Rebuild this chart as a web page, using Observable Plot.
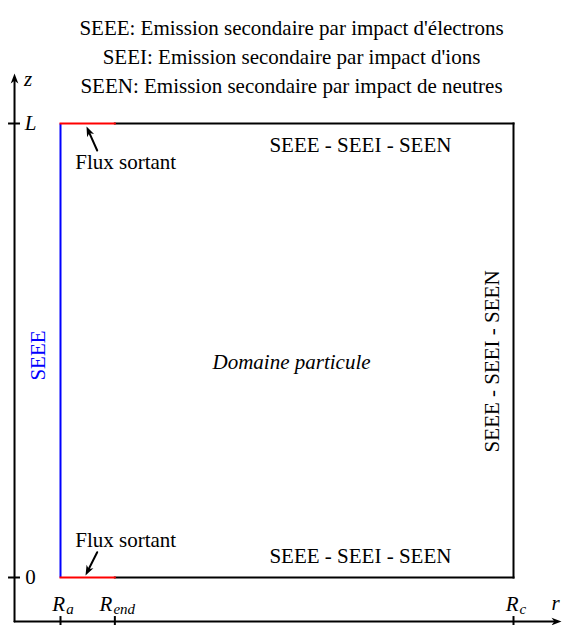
<!DOCTYPE html>
<html><head><meta charset="utf-8">
<script src="https://cdn.jsdelivr.net/npm/d3@7"></script>
<script src="https://cdn.jsdelivr.net/npm/@observablehq/plot@0.6"></script>
<style>
body{margin:0;background:#fff}
#chart svg, #chart svg g, #chart svg text, #chart svg tspan { font-family: "Liberation Serif", "Times New Roman", serif !important; }
</style>
</head><body><div id="chart"></div>
<script>
// ---- data ----
const titleLines = [
  "SEEE: Emission secondaire par impact d'électrons",
  "SEEI: Emission secondaire par impact d'ions",
  "SEEN: Emission secondaire par impact de neutres"
];
const Ra = 0, Rend = 0.12, Rc = 1;   // normalized radial positions
const Z0 = 0, ZL = 1;                // normalized axial positions
const rTickSubs = ["a", "end", "c"];
const rTickValues = [Ra, Rend, Rc];
const zTickNames = ["0", "L"];
const zTickValues = [Z0, ZL];
const walls = [
  {kind: "SEEE", r1: Ra, z1: Z0, r2: Ra, z2: ZL},
  {kind: "wall", r1: Rend, z1: ZL, r2: Rc, z2: ZL},
  {kind: "wall", r1: Rc, z1: Z0, r2: Rc, z2: ZL},
  {kind: "wall", r1: Rend, z1: Z0, r2: Rc, z2: Z0},
  {kind: "flux", r1: Ra, z1: ZL, r2: Rend, z2: ZL},
  {kind: "flux", r1: Ra, z1: Z0, r2: Rend, z2: Z0}
];
const boundaryLabels = [
  {text: "SEEE - SEEI - SEEN", r: 0.662, z: 0.951, rotate: 0},
  {text: "SEEE - SEEI - SEEN", r: 0.662, z: 0.047, rotate: 0},
  {text: "SEEE - SEEI - SEEN", r: 0.953, z: 0.476, rotate: -90}
];
const seeeLabel = [{text: "SEEE", r: -0.0486, z: 0.489}];
const domainLabel = [{text: "Domaine particule", r: 0.51, z: 0.474}];
const fluxLabels = [
  {text: "Flux sortant", r: 0.144, z: 0.914},
  {text: "Flux sortant", r: 0.144, z: 0.0815}
];
const fluxArrows = [
  {r1: 0.081, z1: 0.9405, r2: 0.0574, z2: 0.9934},
  {r1: 0.081, z1: 0.0557, r2: 0.0552, z2: 0.0044}
];
// axis frame (normalized units)
const AXIS_R = -0.1015, AXIS_Z = -0.097, AXIS_R_END = 1.106, AXIS_Z_END = 1.11;

// ---- layout ----
const FONT = "Liberation Serif";
const FS = 21, SUB = 15;
const xRange = [60, 513], yRange = [577, 123];
const kx = (xRange[1] - xRange[0]), ky = (yRange[0] - yRange[1]);
const angle = d => Math.atan2((d.r2 - d.r1) * kx, (d.z2 - d.z1) * ky) * 180 / Math.PI;

const stealth = {draw(ctx) { const L = 10, W = 3.8, B = 7.2; ctx.moveTo(0, 0); ctx.lineTo(W, L); ctx.lineTo(0, B); ctx.lineTo(-W, L); ctx.closePath(); }};

const axes = [
  {r1: AXIS_R, z1: AXIS_Z, r2: AXIS_R_END, z2: AXIS_Z},
  {r1: AXIS_R, z1: AXIS_Z, r2: AXIS_R, z2: AXIS_Z_END}
];

const cv = document.createElement("canvas").getContext("2d");
const tw = (s, size) => { cv.font = `italic ${size}px "${FONT}"`; return cv.measureText(s).width; };

const rLabelMarks = rTickSubs.flatMap((sub, i) => {
  const wR = tw("R", FS), wS = tw(sub, SUB), total = wR + wS + 1, shift = 2.5;
  const d = [{r: rTickValues[i], z: AXIS_Z}];
  return [
    Plot.text(d, {x: "r", y: "z", text: () => "R", fontSize: FS, fontFamily: FONT, fontStyle: "italic", textAnchor: "start", dx: -total / 2 + shift, dy: -17.4, fill: "black"}),
    Plot.text(d, {x: "r", y: "z", text: () => sub, fontSize: SUB, fontFamily: FONT, fontStyle: "italic", textAnchor: "start", dx: -total / 2 + shift + wR + 1, dy: -12.5, fill: "black"})
  ];
});

const zLabelMarks = zTickNames.map((name, i) => Plot.text([{r: AXIS_R, z: zTickValues[i]}], {
  x: "r", y: "z", text: () => name, fontSize: FS, fontFamily: FONT,
  fontStyle: isNaN(+name) ? "italic" : "normal", dx: 16, fill: "black"
}));

const chart = Plot.plot({
  width: 563, height: 625, margin: 0,
  x: {domain: [0, 1], range: xRange, axis: null},
  y: {domain: [0, 1], range: yRange, axis: null},
  marks: [
    // title
    Plot.text([titleLines.join("\n")], {frameAnchor: "top", text: d => d, fontSize: FS, fontFamily: FONT, lineAnchor: "top", lineHeight: 29 / FS, dx: 9.5, dy: 14, fill: "black"}),
    // axes
    Plot.arrow(axes, {x1: "r1", y1: "z1", x2: "r2", y2: "z2", stroke: "black", strokeWidth: 2, headLength: 0, insetEnd: 5}),
    Plot.dot(axes, {x: "r2", y: "z2", symbol: stealth, rotate: angle, fill: "black", stroke: "none"}),
    Plot.ruleY(zTickValues, {y: d => d, x1: AXIS_R - 0.0132, x2: AXIS_R + 0.0132, stroke: "black", strokeWidth: 2}),
    Plot.ruleX(rTickValues, {x: d => d, y1: AXIS_Z - 0.011, y2: AXIS_Z + 0.011, stroke: "black", strokeWidth: 2}),
    Plot.text([{r: AXIS_R, z: AXIS_Z_END}], {x: "r", y: "z", text: () => "z", fontSize: FS, fontFamily: FONT, fontStyle: "italic", dx: 13.5, dy: 5.5, fill: "black"}),
    Plot.text([{r: AXIS_R_END, z: AXIS_Z}], {x: "r", y: "z", text: () => "r", fontSize: FS, fontFamily: FONT, fontStyle: "italic", dx: -6, dy: -18, fill: "black"}),
    ...zLabelMarks,
    ...rLabelMarks,
    // domain boundaries
    Plot.link(walls.filter(d => d.kind === "wall"), {x1: "r1", y1: "z1", x2: "r2", y2: "z2", stroke: "black", strokeWidth: 2, strokeLinecap: "square"}),
    Plot.link(walls.filter(d => d.kind === "SEEE"), {x1: "r1", y1: "z1", x2: "r2", y2: "z2", stroke: "#0000ff", strokeWidth: 2}),
    Plot.link(walls.filter(d => d.kind === "flux"), {x1: "r1", y1: "z1", x2: "r2", y2: "z2", stroke: "#ff0000", strokeWidth: 2, strokeLinecap: "square"}),
    // labels
    Plot.text(boundaryLabels, {x: "r", y: "z", text: "text", rotate: "rotate", fontSize: FS, fontFamily: FONT, fill: "black"}),
    Plot.text(seeeLabel, {x: "r", y: "z", text: "text", rotate: -90, fontSize: FS, fontFamily: FONT, fill: "#0000ff"}),
    Plot.text(domainLabel, {x: "r", y: "z", text: "text", fontSize: FS, fontFamily: FONT, fontStyle: "italic", fill: "black"}),
    Plot.text(fluxLabels, {x: "r", y: "z", text: "text", fontSize: FS, fontFamily: FONT, fill: "black"}),
    // outflow arrows
    Plot.arrow(fluxArrows, {x1: "r1", y1: "z1", x2: "r2", y2: "z2", stroke: "black", strokeWidth: 2, headLength: 0, insetEnd: 5}),
    Plot.dot(fluxArrows, {x: "r2", y: "z2", symbol: stealth, rotate: angle, fill: "black", stroke: "none"})
  ]
});
d3.select(chart).selectAll("text, tspan").style("font-family", "\"Liberation Serif\", serif", "important");
document.getElementById("chart").appendChild(chart);
</script>
</body></html>
